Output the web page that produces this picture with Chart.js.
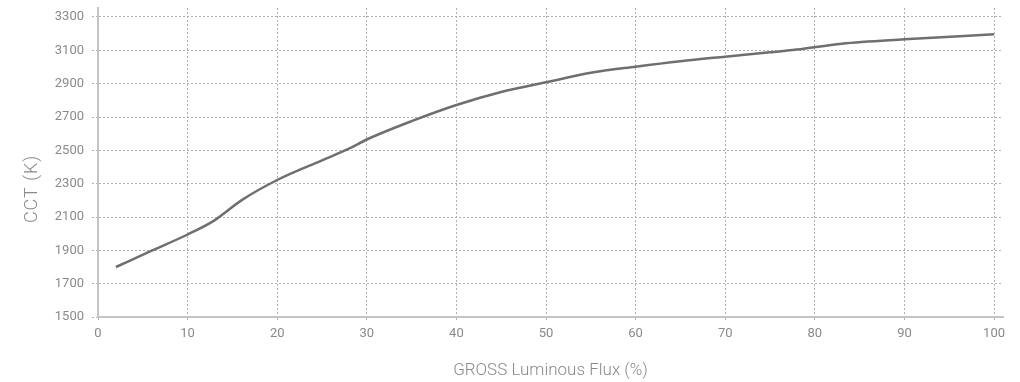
<!DOCTYPE html>
<html><head><meta charset="utf-8">
<script src="https://cdn.jsdelivr.net/npm/chart.js@4/dist/chart.umd.min.js"></script>
<style>html,body{margin:0;padding:0;background:#fff}#wrap{width:1020px;height:382px}</style>
</head><body><div id="wrap"><canvas id="c" width="1020" height="382"></canvas></div>
<script>
const fluxPercent = [2, 6, 10, 13, 16, 20, 25, 28, 30, 35, 40, 45, 50, 55, 60, 65, 70, 75, 78, 83, 90, 100];
const cctKelvin   = [1800, 1898, 1995, 2080, 2200, 2322, 2440, 2510, 2565, 2675, 2772, 2850, 2908, 2965, 3002, 3035, 3062, 3088, 3105, 3140, 3166, 3196];
const xTickValues = [0, 10, 20, 30, 40, 50, 60, 70, 80, 90, 100];
const yTickValues = [1500, 1700, 1900, 2100, 2300, 2500, 2700, 2900, 3100, 3300];
const xTitle = 'GROSS Luminous Flux (%)';
const yTitle = 'CCT (K)';

const pts = fluxPercent.map((x, i) => ({x, y: cctKelvin[i]}));
const gridCol = '#b0b0b0', axisCol = '#c4c4c4', textCol = '#8a8a8a';
const tickFont = {family: 'Roboto', size: 13};
const titleFont = {family: 'Roboto', size: 17, weight: 300};

const yTitlePlugin = {
  id: 'yTitle',
  afterDraw(chart) {
    const ctx = chart.ctx;
    ctx.save();
    ctx.translate(32, 189);
    ctx.rotate(-Math.PI / 2);
    ctx.font = '300 18px Roboto';
    if ('letterSpacing' in ctx) ctx.letterSpacing = '1px';
    ctx.fillStyle = textCol;
    ctx.textAlign = 'center';
    ctx.textBaseline = 'middle';
    ctx.fillText(yTitle, 0, 0);
    ctx.restore();
  }
};

new Chart(document.getElementById('c'), {
  type: 'line',
  data: {datasets: [{data: pts, borderColor: '#6f6f6f', borderWidth: 2.5, pointRadius: 0, cubicInterpolationMode: 'monotone', fill: false}]},
  options: {
    responsive: false, animation: false, devicePixelRatio: 1,
    layout: {padding: {top: 8, right: 17, left: 0, bottom: 0}},
    plugins: {legend: {display: false}, tooltip: {enabled: false}},
    scales: {
      x: {
        type: 'linear', min: 0, max: 101,
        afterFit: s => { s.height = 65; s.paddingLeft = 0; s.paddingRight = 0; },
        afterBuildTicks: s => { s.ticks = xTickValues.map(v => ({value: v})); },
        ticks: {color: textCol, font: tickFont, padding: 4, maxRotation: 0, autoSkip: false, callback: v => String(v)},
        grid: {color: gridCol, lineWidth: 1, tickLength: 5, tickColor: gridCol, tickBorderDash: [2, 2]},
        border: {display: true, color: axisCol, width: 2, dash: [2, 2]},
        title: {display: true, text: xTitle, color: textCol, font: titleFont, padding: {top: 0, bottom: 1}}
      },
      y: {
        type: 'linear', min: 1500, max: 3354,
        afterFit: s => { s.width = 98; s.paddingTop = 0; s.paddingBottom = 0; },
        afterBuildTicks: s => { s.ticks = yTickValues.map(v => ({value: v})); },
        ticks: {color: textCol, font: tickFont, padding: 8, autoSkip: false, callback: v => String(v)},
        grid: {color: gridCol, lineWidth: 1, tickLength: 6, tickColor: gridCol, tickBorderDash: [2, 2]},
        border: {display: true, color: axisCol, width: 2, dash: [2, 2]},
        title: {display: false}
      }
    }
  },
  plugins: [yTitlePlugin]
});
</script></body></html>
